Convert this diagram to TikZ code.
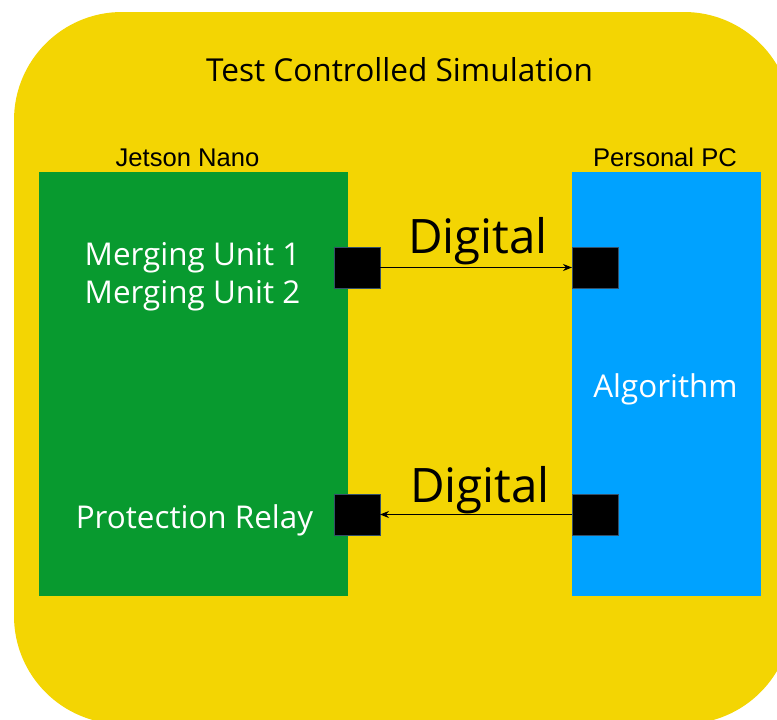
\documentclass[tikz,border=0pt]{standalone}
\usepackage{fontspec}
\setmainfont{Open Sans}
\newfontfamily\arialfont{Liberation Sans}
\usetikzlibrary{arrows.meta}
\definecolor{bgyellow}{HTML}{F3D503}
\definecolor{jetgreen}{HTML}{089A2F}
\definecolor{pcblue}{HTML}{00A2FF}
\definecolor{portedge}{HTML}{34506A}
\tikzset{
  panel/.style={draw=none, inner sep=0pt, outer sep=0pt},
  port/.style={fill=black, draw=portedge, line width=0.8pt, minimum width=46pt, minimum height=41pt, inner sep=0pt, outer sep=0pt},
  label/.style={anchor=base, inner sep=0pt, outer sep=0pt},
  whitetext/.style={label, text=white, font=\fontsize{31.4}{37}\selectfont},
  headtext/.style={label, text=black, font=\arialfont\fontsize{25.6}{30}\selectfont},
  digtext/.style={label, text=black, font=\fontsize{47.5}{56}\selectfont},
  link/.style={line width=1.9pt, -{Stealth[length=9pt,width=7pt]}}
}
\begin{document}
\begin{tikzpicture}[x=1pt,y=-1pt]
\useasboundingbox (0,0) rectangle (777,720);
\clip (0,0) rectangle (777,720);
\fill[bgyellow, rounded corners=108pt] (14,12) rectangle (792,724);

\node[label, font=\fontsize{31.6}{37}\selectfont] (title) at (399.5,81) {Test Controlled Simulation};

\node[panel, fill=jetgreen, minimum width=309pt, minimum height=424pt] (jetson) at (193.5,384) {};
\node[panel, fill=pcblue, minimum width=189pt, minimum height=424pt] (pc) at (666.5,384) {};

\node[headtext] (jetsonlbl) at (187.5,166) {Jetson Nano};
\node[headtext] (pclbl) at (665,166) {Personal PC};

\node[whitetext] (mu1) at (192.5,265) {Merging Unit 1};
\node[whitetext] (mu2) at (192.5,303) {Merging Unit 2};
\node[whitetext] (relay) at (194.5,528) {Protection Relay};
\node[whitetext] (algo) at (665.5,397) {Algorithm};

\node[port] (jout) at (357,267.5) {};
\node[port] (pin) at (595,267.5) {};
\node[port] (jin) at (357,514.5) {};
\node[port] (pout) at (595,514.5) {};

\draw[link] (jout.east) -- (pin.west);
\draw[link] (pout.west) -- (jin.east);

\node[digtext] (dig1) at (478,253) {Digital};
\node[digtext] (dig2) at (480,502) {Digital};
\end{tikzpicture}
\end{document}
